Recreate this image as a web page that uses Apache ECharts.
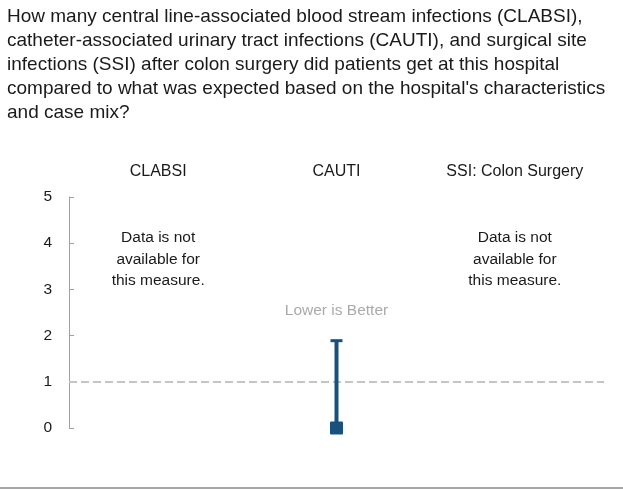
<!DOCTYPE html>
<html><head><meta charset="utf-8">
<script src="https://cdn.jsdelivr.net/npm/echarts@6/dist/echarts.min.js"></script>
<style>html,body{margin:0;padding:0;background:#fff}#c{width:623px;height:490px}</style>
</head><body><div id="c"></div>
<script>
const titleLines = [
  "How many central line-associated blood stream infections (CLABSI),",
  "catheter-associated urinary tract infections (CAUTI), and surgical site",
  "infections (SSI) after colon surgery did patients get at this hospital",
  "compared to what was expected based on the hospital's characteristics",
  "and case mix?"
];
const categories = ["CLABSI", "CAUTI", "SSI: Colon Surgery"];
const sirValues = [null, 0, null];
const lowerValues = [null, 0, null];
const upperValues = [null, 1.89, null];
const yTicks = [0, 1, 2, 3, 4, 5];
const benchmark = 1;
const noDataText = "Data is not\navailable for\nthis measure.";
const noDataLevel = 3.65;
const betterText = "Lower is Better";
const betterLevel = 2.54;

const FONT = "'Liberation Sans', Arial, sans-serif";
const BLUE = '#18507f';

const data = categories.map((c, i) => [i, sirValues[i], lowerValues[i], upperValues[i]]).filter(d => d[1] !== null);
const noDataPoints = categories.map((c, i) => sirValues[i] === null ? { coord: [c, noDataLevel] } : null).filter(Boolean);

const chart = echarts.init(document.getElementById('c'), null, { renderer: 'canvas' });
chart.setOption({
  animation: false,
  textStyle: { fontFamily: FONT },
  graphic: [
    {
      type: 'text', left: 7, top: 5,
      style: { text: titleLines.join('\n'), font: '19px ' + FONT, fill: '#1a1a1a', lineHeight: 24 }
    },
    {
      type: 'rect', left: 0, top: 487, shape: { width: 623, height: 2 }, style: { fill: '#a6a6a6' }
    }
  ],
  grid: { left: 69, right: 19, top: 197, bottom: 62 },
  xAxis: {
    type: 'category', data: categories, position: 'top',
    axisLine: { show: false }, axisTick: { show: false },
    axisLabel: { color: '#1a1a1a', fontSize: 16, fontFamily: FONT, margin: 17 }
  },
  yAxis: {
    type: 'value', min: 0, max: 5, interval: 1,
    axisLine: { show: true, lineStyle: { color: '#a0a0a0', width: 1 } },
    axisTick: { show: true, inside: true, length: 5, lineStyle: { color: '#a0a0a0' } },
    splitLine: { show: false },
    axisLabel: { color: '#1a1a1a', fontSize: 15.5, fontFamily: FONT, margin: 17,
      formatter: v => yTicks.includes(v) ? String(v) : '' }
  },
  series: [{
    type: 'custom',
    data: data,
    encode: { x: 0, y: [1, 2, 3] },
    renderItem: function (params, api) {
      const x = api.value(0);
      const p = api.coord([x, api.value(1)]);
      const lo = api.coord([x, api.value(2)]);
      const hi = api.coord([x, api.value(3)]);
      return {
        type: 'group',
        children: [
          { type: 'line', shape: { x1: hi[0], y1: hi[1], x2: lo[0], y2: lo[1] }, style: { stroke: BLUE, lineWidth: 4 } },
          { type: 'line', shape: { x1: hi[0] - 6, y1: hi[1], x2: hi[0] + 6, y2: hi[1] }, style: { stroke: BLUE, lineWidth: 3 } },
          { type: 'rect', shape: { x: p[0] - 6.5, y: p[1] - 6.5, width: 13, height: 13, r: 1 }, style: { fill: BLUE } }
        ]
      };
    },
    markLine: {
      silent: true, symbol: 'none', label: { show: false },
      lineStyle: { color: '#c4c4c4', type: [8, 4], width: 2 },
      data: [{ yAxis: benchmark }]
    },
    markPoint: {
      silent: true, symbol: 'rect', symbolSize: 1,
      itemStyle: { color: 'rgba(0,0,0,0)' },
      label: { show: true, position: 'inside', fontFamily: FONT, fontSize: 15.5, lineHeight: 21.5, color: '#1a1a1a', align: 'center' },
      data: noDataPoints.map(d => ({ coord: d.coord, value: 0, label: { formatter: noDataText } }))
        .concat([{ coord: [categories[1], betterLevel], value: 0, label: { formatter: betterText, color: '#aaaaaa' } }])
    },
    z: 5
  }]
});
</script></body></html>
